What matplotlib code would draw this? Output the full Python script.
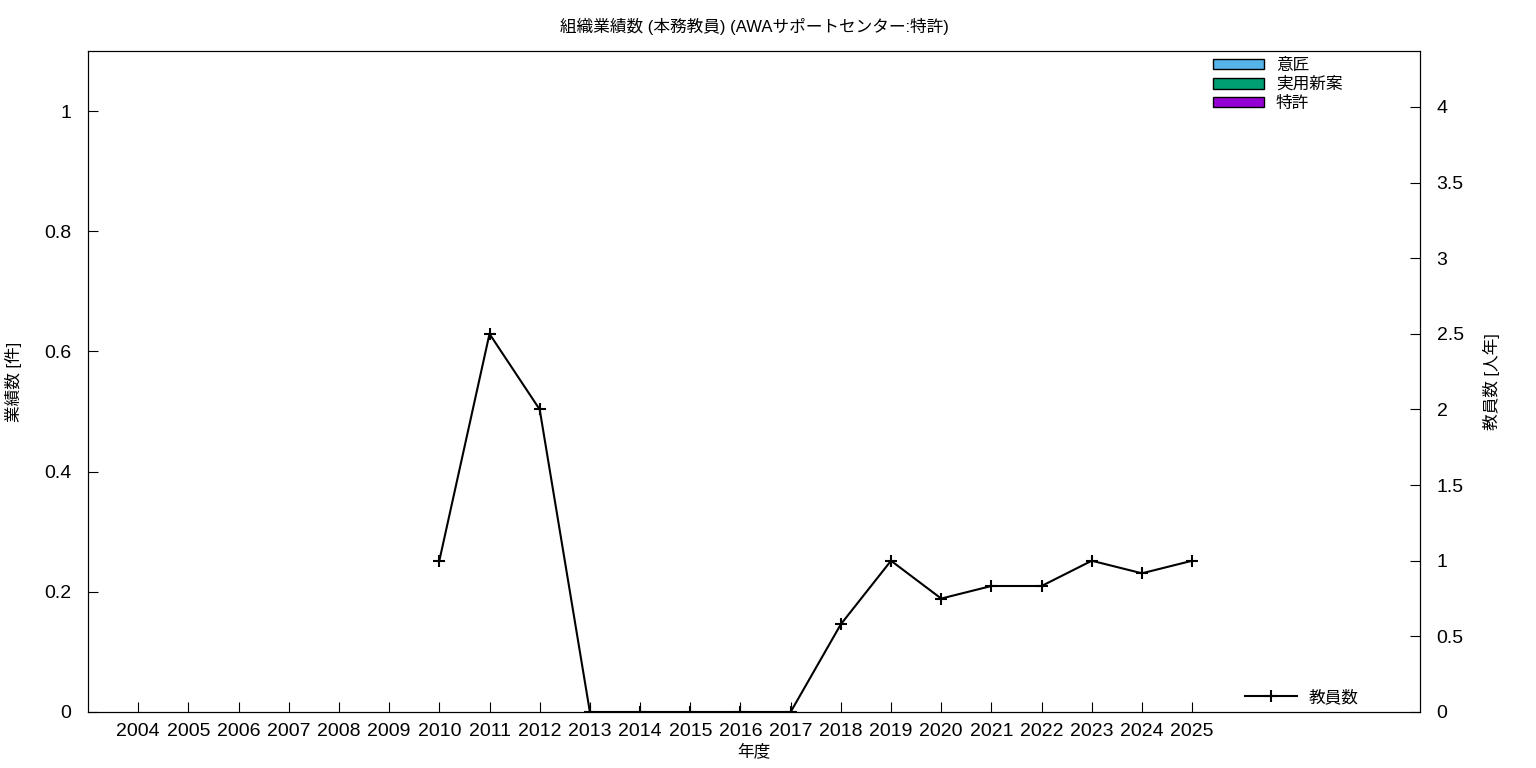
import matplotlib.pyplot as plt
import matplotlib.patches as mpatches
from matplotlib.lines import Line2D
import numpy as np

plt.rcParams['font.family'] = ['Liberation Sans', 'Noto Sans CJK JP', 'DejaVu Sans']

# ===== DATA =====
years = [str(y) for y in range(2004, 2026)]
staff_years = ["2010", "2011", "2012", "2013", "2014", "2015", "2016", "2017",
               "2018", "2019", "2020", "2021", "2022", "2023", "2024", "2025"]
staff = [1.0, 2.5, 2.0, 0, 0, 0, 0, 0,
         0.58, 1.0, 0.75, 0.833, 0.833, 1.0, 0.917, 1.0]
bar_labels = ["意匠", "実用新案", "特許"]
bar_colors = ["#56b4e9", "#009e73", "#9400d3"]

# ===== PLOT =====
fig = plt.figure(figsize=(15.36, 7.68), dpi=100)
ax = fig.add_axes([88/1536, 56/768, (1420-88)/1536, (712-51)/768])
ax2 = ax.twinx()

x = np.arange(len(years))
xs = [years.index(y) for y in staff_years]
ax2.plot(xs, staff, color="black", lw=1.5, marker="+", markersize=9, mew=1.5)

ax.set_xlim(-1, 25.54)
ax.set_ylim(0, 1.1)
ax2.set_ylim(0, 4.37)
ax.set_xticks(x)
ax.set_xticklabels(years)
ax.set_yticks([0, 0.2, 0.4, 0.6, 0.8, 1])
ax.set_yticklabels(["0", "0.2", "0.4", "0.6", "0.8", "1"])
ax2.set_yticks(np.arange(0, 4.01, 0.5))
ax2.set_yticklabels(["0", "0.5", "1", "1.5", "2", "2.5", "3", "3.5", "4"])

ax.tick_params(axis="both", direction="in", length=7, labelsize=14)
ax.tick_params(axis="y", pad=12)
ax2.tick_params(axis="y", direction="in", length=7, labelsize=14, pad=12)
ax.tick_params(axis="x", pad=8)

ax.set_title("組織業績数 (本務教員) (AWAサポートセンター:特許)", fontsize=12, pad=14)
ax.set_xlabel("年度", fontsize=12, labelpad=2)
ax.set_ylabel("業績数 [件]", fontsize=12, labelpad=16)
ax2.set_ylabel("教員数 [人年]", fontsize=12, labelpad=14)

handles = [mpatches.Patch(facecolor=c, edgecolor="black", label=l)
           for l, c in zip(bar_labels, bar_colors)]
leg1 = ax2.legend(handles=handles, loc="upper right", bbox_to_anchor=(0.953, 1.012),
                  frameon=False, fontsize=12, handlelength=3.1, handleheight=0.6,
                  labelspacing=0.22, handletextpad=0.7)
ax2.add_artist(leg1)
line_h = [Line2D([0], [0], color="black", lw=1.5, marker="+", markersize=9, mew=1.5)]
ax2.legend(handles=line_h, labels=["教員数"], loc="lower right",
           bbox_to_anchor=(0.965, -0.012), frameon=False, fontsize=12,
           handlelength=3.1, handletextpad=0.7)

plt.savefig("out.png", dpi=100)
